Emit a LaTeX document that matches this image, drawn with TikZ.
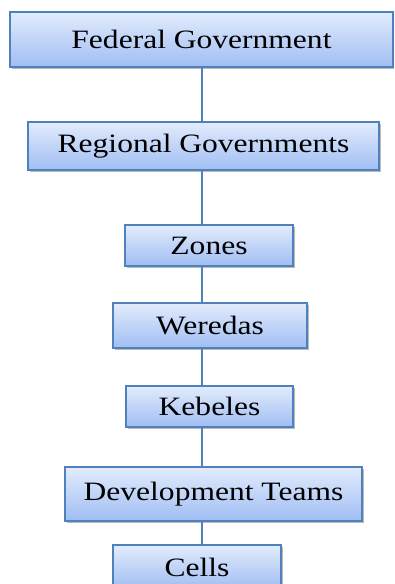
\documentclass[tikz,border=0pt]{standalone}
\usepackage{fontspec}
\newfontfamily\boxfont[FakeStretch=1.19]{Liberation Serif}
\usetikzlibrary{shadows}
\definecolor{boxedge}{RGB}{79,129,189}
\definecolor{boxtop}{RGB}{226,236,252}
\definecolor{boxbot}{RGB}{160,189,243}
\definecolor{linkcol}{RGB}{79,129,189}
\tikzset{
  orgbox/.style={draw=boxedge, line width=1.5pt, rectangle, inner sep=0pt,
    top color=boxtop, bottom color=boxbot,
    drop shadow={shadow xshift=1.5pt, shadow yshift=-2pt, fill=black!45, opacity=0.6},
    font=\boxfont\fontsize{26.5}{30}\selectfont, text=black},
  link/.style={draw=linkcol, line width=1.8pt}
}
\begin{document}
\begin{tikzpicture}[x=1pt,y=-1pt]
\clip (0,0) rectangle (394,584);
\fill[white] (0,0) rectangle (394,584);
\coordinate (spine) at (202,0);
\node[orgbox, minimum width=383pt, minimum height=55pt] (fed) at (201.5,39.5) {Federal Government};
\node[orgbox, minimum width=351pt, minimum height=48pt] (reg) at (203.5,146) {Regional Governments};
\node[orgbox, minimum width=168pt, minimum height=41pt] (zon) at (209,245.5) {Zones};
\node[orgbox, minimum width=194pt, minimum height=45pt] (wer) at (210,325.5) {Weredas};
\node[orgbox, minimum width=167pt, minimum height=41pt] (keb) at (209.5,406.5) {Kebeles};
\node[orgbox, minimum width=297pt, minimum height=54pt] (dev) at (213.5,494) {Development Teams};
\node[orgbox, minimum width=168pt, minimum height=44pt] (cel) at (197,567) {Cells};
\draw[link] (fed.south -| spine) -- (reg.north -| spine);
\draw[link] (reg.south -| spine) -- (zon.north -| spine);
\draw[link] (zon.south -| spine) -- (wer.north -| spine);
\draw[link] (wer.south -| spine) -- (keb.north -| spine);
\draw[link] (keb.south -| spine) -- (dev.north -| spine);
\draw[link] (dev.south -| spine) -- (cel.north -| spine);
\end{tikzpicture}
\end{document}
